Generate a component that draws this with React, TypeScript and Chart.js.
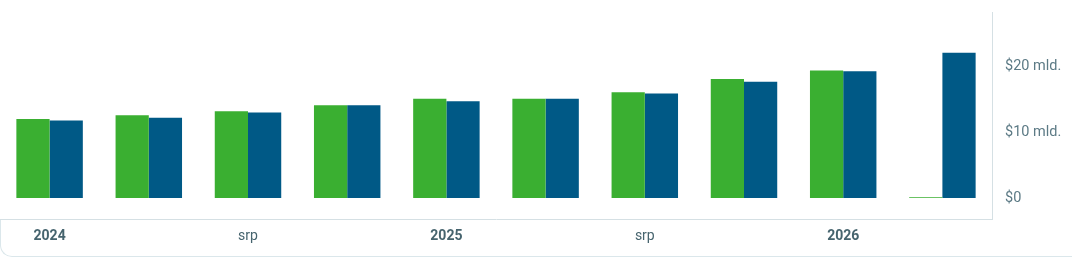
import React, { useEffect, useRef } from "react";
import { Chart, registerables } from "chart.js";

Chart.register(...registerables);

const categories = ["2024", "", "srp", "", "2025", "", "srp", "", "2026", ""];
const greenSeries = [12.0, 12.6, 13.2, 14.1, 15.1, 15.1, 16.1, 18.1, 19.4, 0.12];
const blueSeries = [11.8, 12.2, 13.0, 14.1, 14.7, 15.1, 15.9, 17.7, 19.3, 22.1];
const yTicks = [0, 10, 20];
const yearLabels = ["2024", "2025", "2026"];

const GREEN = "#3aaf31";
const BLUE = "#005986";

export default function App() {
  const ref = useRef<HTMLCanvasElement | null>(null);

  useEffect(() => {
    document.body.style.margin = "0";
    if (!ref.current) return;
    const chart = new Chart(ref.current, {
      type: "bar",
      data: {
        labels: categories,
        datasets: [
          {
            data: greenSeries,
            backgroundColor: GREEN,
            categoryPercentage: 0.67,
            barPercentage: 1,
          },
          {
            data: blueSeries,
            backgroundColor: BLUE,
            categoryPercentage: 0.67,
            barPercentage: 1,
          },
        ],
      },
      options: {
        animation: false,
        responsive: false,
        maintainAspectRatio: false,
        layout: { padding: { top: 12, left: 0, right: 0, bottom: 0 } },
        plugins: { legend: { display: false }, tooltip: { enabled: false } },
        scales: {
          x: {
            grid: { display: false, drawTicks: false },
            border: { display: true, color: "#d5e0e4", width: 1 },
            ticks: {
              autoSkip: false,
              maxRotation: 0,
              padding: 9,
              color: "#46646e",
              font: (ctx: any) => {
                const lbl = categories[ctx.index];
                return {
                  family: "Roboto",
                  size: 14,
                  weight: yearLabels.includes(lbl) ? "bold" : "normal",
                };
              },
            },
            afterFit: (scale: any) => {
              scale.height = 47;
              scale.paddingLeft = 0;
              scale.paddingRight = 0;
            },
          },
          y: {
            position: "right",
            min: -3.2,
            max: 28.3,
            grid: { display: false, drawTicks: false },
            border: { display: true, color: "#d5e0e4", width: 1 },
            afterBuildTicks: (scale: any) => {
              scale.ticks = yTicks.map((v) => ({ value: v }));
            },
            ticks: {
              padding: 13,
              color: "#5c7a85",
              font: { family: "Roboto", size: 14.5 },
              callback: (v: any) => (v === 0 ? "$0" : `$${v} mld.`),
            },
            afterFit: (scale: any) => {
              scale.width = 80;
              scale.paddingTop = 0;
              scale.paddingBottom = 0;
            },
          },
        },
      },
    });
    return () => chart.destroy();
  }, []);

  return (
    <div style={{ position: "relative", width: 1072, height: 266, overflow: "hidden", background: "#fff" }}>
      <div
        style={{
          position: "absolute",
          left: 0,
          top: 219,
          width: 1200,
          height: 38,
          boxSizing: "border-box",
          borderLeft: "1px solid #dbe7eb",
          borderBottom: "1px solid #dbe7eb",
          borderBottomLeftRadius: 12,
        }}
      />
      <canvas ref={ref} width={1072} height={266} style={{ position: "absolute", left: 0, top: 0 }} />
    </div>
  );
}
